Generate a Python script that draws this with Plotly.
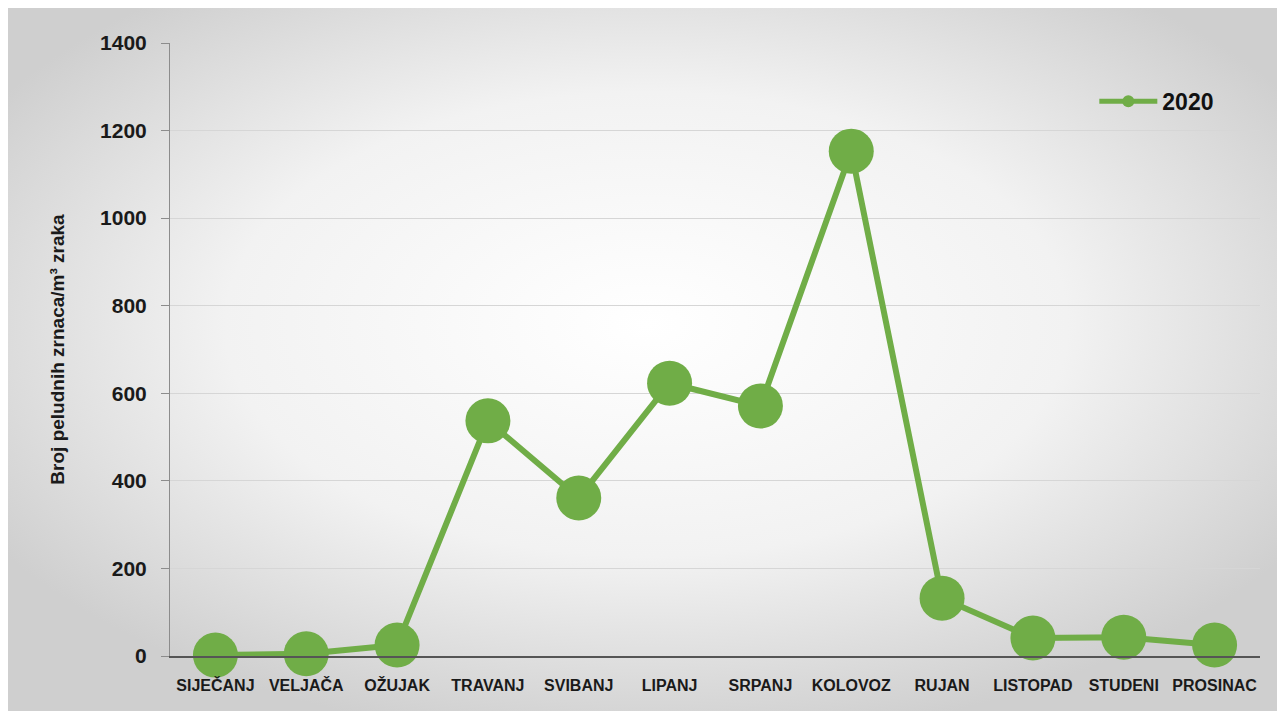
import plotly.graph_objects as go

months = ["SIJEČANJ", "VELJAČA", "OŽUJAK", "TRAVANJ", "SVIBANJ", "LIPANJ",
          "SRPANJ", "KOLOVOZ", "RUJAN", "LISTOPAD", "STUDENI", "PROSINAC"]
values_2020 = [2, 5, 25, 537, 361, 623, 571, 1153, 132, 41, 43, 25]
y_ticks = [0, 200, 400, 600, 800, 1000, 1200, 1400]

GREEN = "#70ad47"

# radial gradient background (white centre, grey edges) as inline svg
bg_svg = (
    "data:image/svg+xml;utf8,"
    "<svg xmlns='http://www.w3.org/2000/svg' width='1277' height='703'>"
    "<defs><radialGradient id='g' cx='0.5' cy='0.45' r='0.6'>"
    "<stop offset='0' stop-color='%23ffffff'/>"
    "<stop offset='0.55' stop-color='%23f2f2f2'/>"
    "<stop offset='1' stop-color='%23cfcfcf'/>"
    "</radialGradient></defs>"
    "<rect width='1277' height='703' fill='url(%23g)'/></svg>"
)

W, H = 1277, 703
L, R, T, B = 162, 25, 35, 55
PW, PH = W - L - R, H - T - B

fig = go.Figure()

fig.add_trace(
    go.Scatter(
        x=months,
        y=values_2020,
        mode="lines+markers",
        name="2020",
        line=dict(color=GREEN, width=6),
        marker=dict(color=GREEN, size=45),
        cliponaxis=False,
    )
)

fig.update_layout(
    width=W,
    height=H,
    margin=dict(l=L, r=R, t=T, b=B),
    paper_bgcolor="#e6e6e6",
    plot_bgcolor="rgba(0,0,0,0)",
    font=dict(family="Liberation Sans, Arial", color="#1a1a1a"),
    images=[
        dict(
            source=bg_svg,
            xref="paper",
            yref="paper",
            x=-L / PW,
            y=1 + T / PH,
            sizex=W / PW,
            sizey=H / PH,
            sizing="stretch",
            layer="below",
        )
    ],
    showlegend=True,
    legend=dict(
        x=0.848,
        y=0.905,
        xanchor="left",
        yanchor="middle",
        bgcolor="rgba(0,0,0,0)",
        font=dict(size=23, family="Liberation Sans, Arial", color="#111", weight="bold"),
        itemsizing="constant",
        itemwidth=58,
    ),
    xaxis=dict(
        type="category",
        showgrid=False,
        showline=True,
        linecolor="#555",
        linewidth=2,
        ticks="",
        tickfont=dict(size=16, family="Liberation Sans, Arial", weight="bold"),
        range=[-0.5, 11.5],
        ticklabelstandoff=14,
    ),
    yaxis=dict(
        range=[0, 1400],
        tickvals=y_ticks,
        showgrid=True,
        gridcolor="#d6d6d6",
        gridwidth=1,
        showline=True,
        linecolor="#8c8c8c",
        linewidth=1,
        ticks="outside",
        ticklen=8,
        tickcolor="#8c8c8c",
        tickfont=dict(size=21, family="Liberation Sans, Arial", weight="bold"),
        ticklabelstandoff=10,
        title=dict(
            text="Broj peludnih zrnaca/m³ zraka",
            font=dict(size=19, family="Liberation Sans, Arial", weight="bold"),
            standoff=30,
        ),
        zeroline=False,
    ),
)

fig.write_html("out.html")
